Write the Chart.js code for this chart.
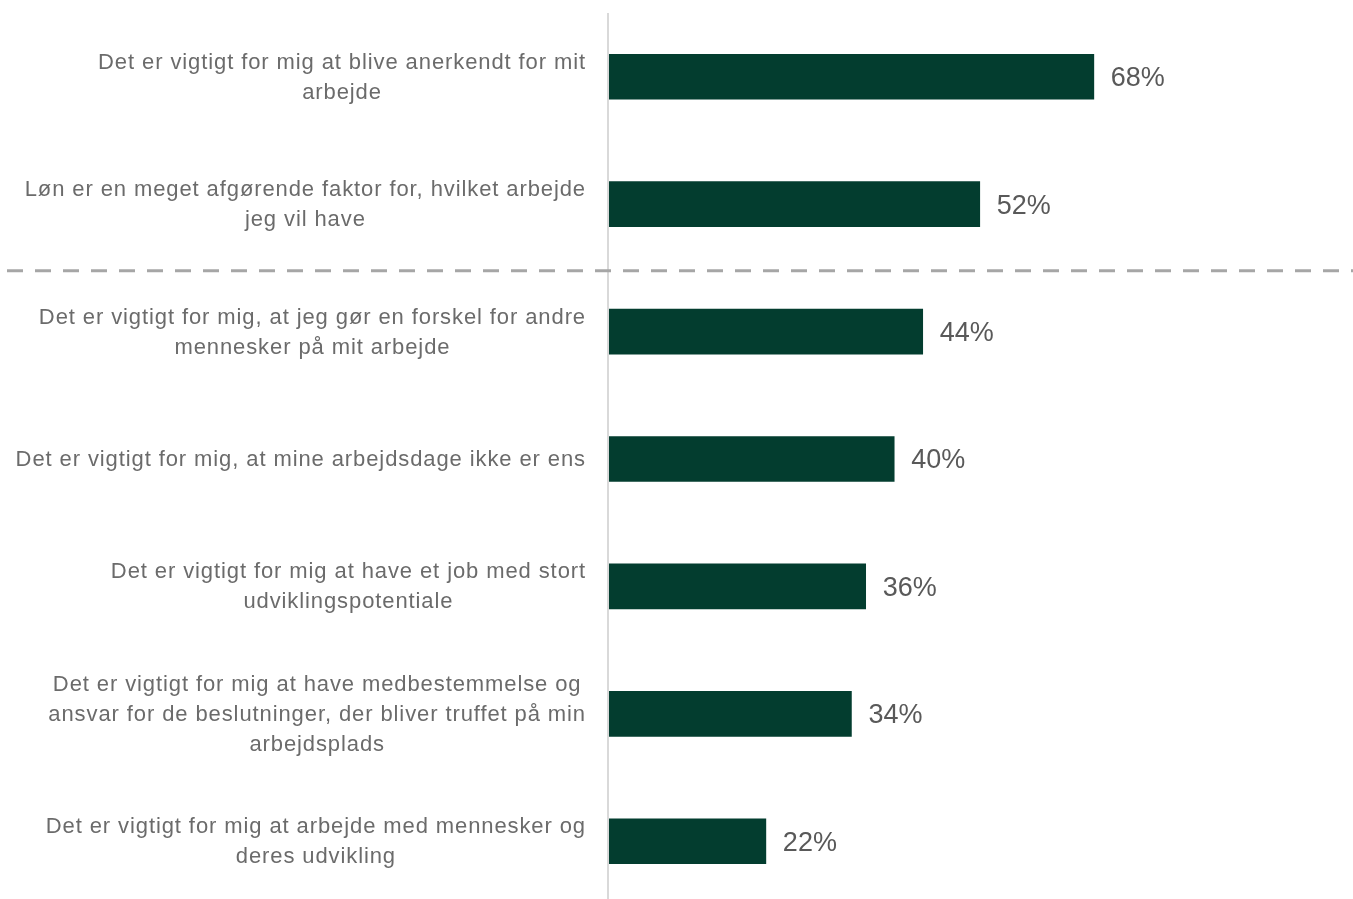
<!DOCTYPE html>
<html>
<head>
<meta charset="utf-8">
<script src="https://cdn.jsdelivr.net/npm/chart.js@4"></script>
<style>
  html, body { margin: 0; padding: 0; background: #fff; overflow: hidden; }
  #wrap { width: 1353px; height: 905px; }
</style>
</head>
<body>
<div id="wrap"><canvas id="barChart"></canvas></div>
<script>
// category labels, split into lines as in the source
const categories = [
  ["Det er vigtigt for mig at blive anerkendt for mit", "arbejde"],
  ["Løn er en meget afgørende faktor for, hvilket arbejde", "jeg vil have"],
  ["Det er vigtigt for mig, at jeg gør en forskel for andre", "mennesker på mit arbejde"],
  ["Det er vigtigt for mig, at mine arbejdsdage ikke er ens"],
  ["Det er vigtigt for mig at have et job med stort", "udviklingspotentiale"],
  ["Det er vigtigt for mig at have medbestemmelse og", "ansvar for de beslutninger, der bliver truffet på min", "arbejdsplads"],
  ["Det er vigtigt for mig at arbejde med mennesker og", "deres udvikling"],
];
const values = [68, 52, 44, 40, 36, 34, 22];
// dashed separator goes after this many bars
const splitAfter = 2;

const labelFont = '22px "Liberation Sans", Arial, sans-serif';
const valueFont = '27px "Liberation Sans", Arial, sans-serif';

const customDraw = {
  id: "customDraw",
  afterDatasetsDraw(chart) {
    const ctx = chart.ctx;
    const yScale = chart.scales.y;
    const meta = chart.getDatasetMeta(0);
    ctx.save();

    // axis line
    ctx.strokeStyle = "#d9d9d9";
    ctx.lineWidth = 2;
    ctx.beginPath();
    ctx.moveTo(chart.chartArea.left - 1, chart.chartArea.top);
    ctx.lineTo(chart.chartArea.left - 1, chart.height);
    ctx.stroke();

    // category labels: block right-aligned, lines centred inside the block
    ctx.font = labelFont;
    ctx.letterSpacing = "0.9px";
    ctx.fillStyle = "#6b6b6b";
    ctx.textAlign = "center";
    ctx.textBaseline = "middle";
    categories.forEach((lines, i) => {
      const yc = yScale.getPixelForTick(i) + 1;
      const maxW = Math.max(...lines.map((l) => ctx.measureText(l).width));
      const cx = chart.chartArea.left - 23 - maxW / 2;
      const lh = 30;
      lines.forEach((l, j) => {
        ctx.fillText(l, cx, yc + (j - (lines.length - 1) / 2) * lh);
      });
    });

    // value labels
    ctx.letterSpacing = "0px";
    ctx.font = valueFont;
    ctx.fillStyle = "#595959";
    ctx.textAlign = "left";
    meta.data.forEach((bar, i) => {
      ctx.fillText(values[i] + "%", bar.x + 17, bar.y + 2);
    });

    // dashed separator
    const ySep = (yScale.getPixelForTick(splitAfter - 1) + yScale.getPixelForTick(splitAfter)) / 2 + 3;
    ctx.strokeStyle = "#a6a6a6";
    ctx.lineWidth = 3;
    ctx.setLineDash([16, 12]);
    ctx.beginPath();
    ctx.moveTo(7, ySep);
    ctx.lineTo(chart.width, ySep);
    ctx.stroke();

    ctx.restore();
  },
};

const ctx = document.getElementById("barChart").getContext("2d");
const barChart = new Chart(ctx, {
  type: "bar",
  data: {
    labels: categories.map((c) => c.join(" ")),
    datasets: [
      {
        data: values,
        backgroundColor: "#033d2f",
        barThickness: 45,
      },
    ],
  },
  options: {
    indexAxis: "y",
    responsive: true,
    maintainAspectRatio: false,
    animation: false,
    layout: { padding: { top: 13, right: 31, bottom: 0, left: 0 } },
    plugins: {
      legend: { display: false },
      tooltip: { enabled: false },
    },
    scales: {
      x: { display: false, min: 0, max: 100 },
      y: {
        grid: { display: false, drawTicks: false },
        border: { display: false },
        ticks: { display: false },
        afterFit(scale) {
          scale.width = 609;
        },
      },
    },
  },
  plugins: [customDraw],
});
</script>
</body>
</html>
